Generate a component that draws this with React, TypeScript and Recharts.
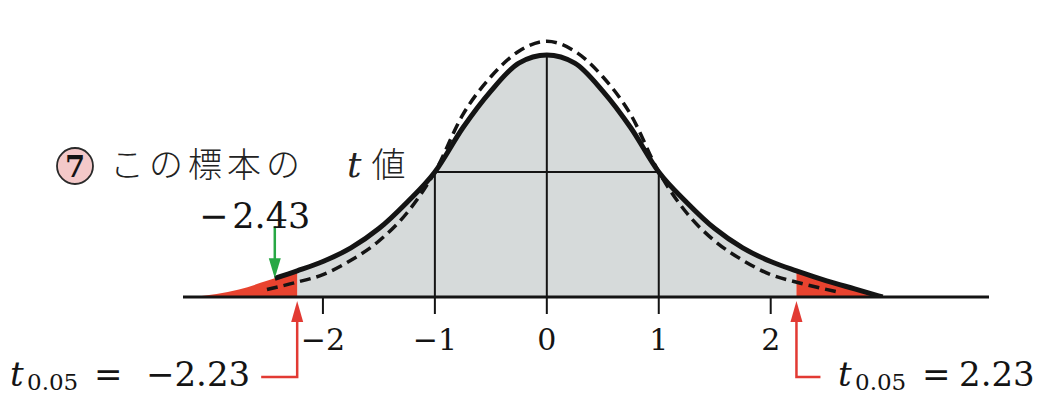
import React from "react";
import {
  Area,
  ComposedChart,
  Line,
  ReferenceDot,
  ReferenceLine,
  XAxis,
  YAxis,
} from "recharts";

// t distribution density (solid curve)
const tX = [-3.15, -2.75, -2.5, -2.43, -2.23, -2, -1.75, -1.5, -1.25, -1, -0.75, -0.5, -0.25, 0, 0.25, 0.5, 0.75, 1, 1.25, 1.5, 1.75, 2, 2.23, 2.5, 2.75, 3.0];
const tY = [0, 0.012, 0.026, 0.03, 0.042, 0.057, 0.079, 0.11, 0.152, 0.201, 0.272, 0.331, 0.376, 0.389, 0.376, 0.331, 0.272, 0.201, 0.152, 0.11, 0.079, 0.057, 0.042, 0.026, 0.013, 0];

// standard normal density (dashed curve)
const normX = [-2.5, -2.25, -2, -1.75, -1.5, -1.25, -1, -0.75, -0.5, -0.25, 0, 0.25, 0.5, 0.75, 1, 1.25, 1.5, 1.75, 2, 2.25, 2.6];
const normY = [0.012, 0.023, 0.036, 0.059, 0.09, 0.135, 0.201, 0.293, 0.354, 0.395, 0.411, 0.395, 0.354, 0.293, 0.201, 0.135, 0.09, 0.059, 0.036, 0.023, 0.008];

const tCrit = 2.23;
const tSample = -2.43;
const tickValues = [-2, -1, 0, 1, 2];
const tickLabels = ["−2", "−1", "0", "1", "2"];
const guideX = [-1, 0, 1];

const GREY = "#d6dada";
const RED = "#e8432f";
const ARROW_RED = "#e23a33";
const GREEN = "#27a844";
const INK = "#141414";
const SERIF = "DejaVu Serif";

const tAt = (x: number) => tY[tX.indexOf(x)];

const allX = Array.from(new Set([...tX, ...normX])).sort((a, b) => a - b);
const rows = allX.map((x) => {
  const i = tX.indexOf(x);
  const j = normX.indexOf(x);
  const t = i >= 0 ? tY[i] : null;
  return {
    x,
    t: t !== null && x >= tSample ? t : null,
    norm: j >= 0 ? normY[j] : null,
    body: t !== null && Math.abs(x) <= tCrit ? t : null,
    tailL: t !== null && x <= -tCrit ? t : null,
    tailR: t !== null && x >= tCrit ? t : null,
  };
});

const AxisTick = (props: any) => {
  const { x, y, payload } = props;
  const label = tickLabels[tickValues.indexOf(payload.value)];
  return (
    <text x={x} y={y + 36} textAnchor="middle" fontFamily={SERIF} fontSize={30} fill={INK}>
      {label}
    </text>
  );
};

// green arrow pointing down at the sample t value on the curve
const SampleArrow = (props: any) => {
  const { cx, cy } = props;
  return (
    <g>
      <line x1={cx} y1={cy - 52} x2={cx} y2={cy - 16} stroke={GREEN} strokeWidth={2.5} />
      <path d={`M${cx - 6},${cy - 20} L${cx + 6},${cy - 20} L${cx},${cy} Z`} fill={GREEN} />
    </g>
  );
};

// red arrow pointing up at the critical value, with a leader towards its label
const critArrow = (dx: number) => (props: any) => {
  const { cx, cy } = props;
  const tip = cy + 4;
  return (
    <g>
      <path
        d={`M${cx},${tip + 16} L${cx},${cy + 80} L${cx + dx},${cy + 80}`}
        fill="none"
        stroke={ARROW_RED}
        strokeWidth={2.5}
      />
      <path d={`M${cx - 6},${tip + 21} L${cx + 6},${tip + 21} L${cx},${tip} Z`} fill={ARROW_RED} />
    </g>
  );
};

const CritLabel = ({ x, value, gap }: { x: number; value: string; gap: number }) => (
  <g fill={INK} fontFamily={SERIF}>
    <text x={x} y={386} fontSize={34} fontStyle="italic">
      t
    </text>
    <text x={x + 17} y={390} fontSize={23}>
      0.05
    </text>
    <text x={x + 84} y={386} fontSize={34}>
      =
    </text>
    <text x={x + 84 + gap} y={386} fontSize={34}>
      {value}
    </text>
  </g>
);

export default function App() {
  return (
    <div style={{ position: "absolute", left: 0, top: 0, width: 1041, height: 396, background: "#fff" }}>
      <ComposedChart
        width={1041}
        height={396}
        data={rows}
        margin={{ top: 17, right: 52, bottom: 39, left: 183 }}
      >
        <XAxis
          type="number"
          dataKey="x"
          domain={[-3.25, 3.95]}
          ticks={tickValues}
          tick={<AxisTick />}
          tickSize={17}
          tickMargin={0}
          height={60}
          axisLine={{ stroke: INK, strokeWidth: 3 }}
          tickLine={{ stroke: INK, strokeWidth: 2 }}
          allowDataOverflow
        />
        <YAxis hide domain={[0, 0.45]} allowDataOverflow />
        <Area dataKey="body" type="monotone" fill={GREY} fillOpacity={1} stroke="none" connectNulls isAnimationActive={false} />
        <Area dataKey="tailL" type="monotone" fill={RED} fillOpacity={1} stroke="none" connectNulls isAnimationActive={false} />
        <Area dataKey="tailR" type="monotone" fill={RED} fillOpacity={1} stroke="none" connectNulls isAnimationActive={false} />
        {guideX.map((gx) => (
          <ReferenceLine
            key={gx}
            segment={[
              { x: gx, y: 0 },
              { x: gx, y: tAt(gx) },
            ]}
            stroke={INK}
            strokeWidth={2}
          />
        ))}
        <ReferenceLine
          segment={[
            { x: -1, y: tAt(1) },
            { x: 1, y: tAt(1) },
          ]}
          stroke={INK}
          strokeWidth={2}
        />
        <Line
          dataKey="norm"
          type="monotone"
          stroke={INK}
          strokeWidth={3.5}
          strokeDasharray="11 6"
          dot={false}
          connectNulls
          isAnimationActive={false}
        />
        <Line
          dataKey="t"
          type="monotone"
          stroke={INK}
          strokeWidth={5}
          dot={false}
          connectNulls
          isAnimationActive={false}
        />
        <ReferenceDot x={tSample} y={tAt(tSample)} ifOverflow="visible" shape={<SampleArrow />} />
        <ReferenceDot x={-tCrit} y={0} ifOverflow="visible" shape={critArrow(-36)} />
        <ReferenceDot x={tCrit} y={0} ifOverflow="visible" shape={critArrow(24)} />
      </ComposedChart>

      <svg width={1041} height={396} style={{ position: "absolute", left: 0, top: 0, pointerEvents: "none" }}>
        <circle cx={75} cy={166} r={18} fill="#f4c9c9" stroke="#2a2a2a" strokeWidth={1.8} />
        <text x={75} y={177} textAnchor="middle" fontFamily={SERIF} fontWeight={700} fontSize={29} fill={INK}>
          7
        </text>
        <text x={110} y={177} fontFamily="'Noto Sans CJK JP'" fontWeight={300} fontSize={34} letterSpacing={5} fill="#222">
          この標本の
          <tspan dx={42} fontFamily={SERIF} fontStyle="italic" fontSize={36} letterSpacing={0}>
            t
          </tspan>
          <tspan dx={10}>値</tspan>
        </text>
        <text x={199} y={228} fontFamily={SERIF} fontSize={35} fill={INK}>
          −<tspan dx={4}>2.43</tspan>
        </text>
        <CritLabel x={10} value="−2.23" gap={52} />
        <CritLabel x={838} value="2.23" gap={37} />
      </svg>
    </div>
  );
}
